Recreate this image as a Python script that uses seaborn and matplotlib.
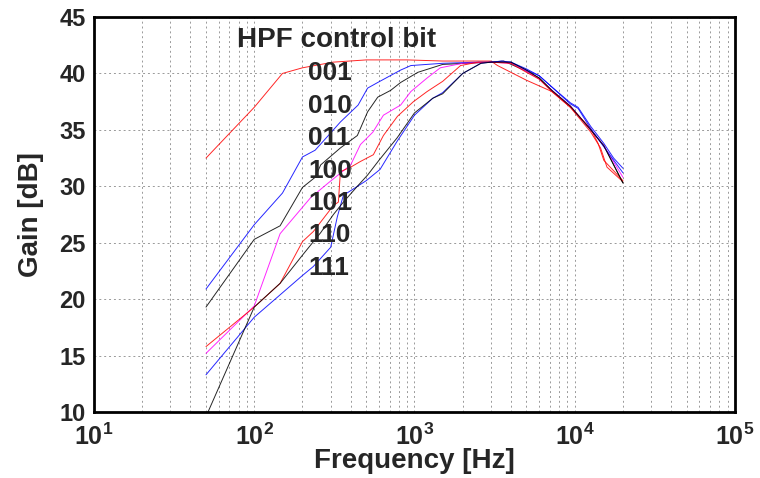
import numpy as np
import pandas as pd
import seaborn as sns
import matplotlib
matplotlib.use("Agg")
import matplotlib.pyplot as plt
from matplotlib.ticker import LogLocator, FixedLocator

# HPF control bit settings
bits = ["001", "010", "011", "100", "101", "110", "111"]
colors = ["#ff0000", "#0000ff", "#000000", "#ff00ff", "#ff0000", "#0000ff", "#000000"]

# frequency [Hz] / gain [dB] per setting
f_001 = [50, 100, 150, 200, 310, 500, 900, 1500, 2000, 3000, 3300, 5000, 7200, 9400, 12600, 14500, 15900, 20000]
g_001 = [32.5, 37.0, 40.0, 40.5, 41.0, 41.2, 41.2, 41.1, 41.1, 41.1, 40.7, 39.4, 38.4, 37.0, 34.8, 33.4, 31.7, 30.4]

f_010 = [50, 100, 150, 200, 240, 290, 345, 445, 510, 590, 820, 950, 1500, 2500, 3000, 4000, 5000, 6000, 7200, 9400, 10500, 12600, 15200, 17500, 20000]
g_010 = [20.9, 26.6, 29.4, 32.6, 33.2, 34.5, 35.7, 37.2, 38.7, 39.2, 40.3, 40.7, 40.9, 41.0, 41.0, 41.0, 40.4, 39.8, 38.8, 37.4, 37.0, 35.3, 33.8, 32.5, 31.6]

f_011 = [50, 100, 145, 200, 240, 260, 345, 440, 510, 590, 710, 820, 1050, 1500, 3000, 3600, 5000, 6000, 7200, 9400, 12600, 15200, 20000]
g_011 = [19.3, 25.3, 26.5, 29.9, 30.8, 31.9, 33.4, 34.5, 36.6, 37.9, 38.5, 39.2, 40.1, 40.8, 41.0, 41.1, 40.2, 39.6, 38.5, 37.1, 35.0, 33.6, 30.3]

f_100 = [50, 100, 145, 225, 290, 400, 460, 550, 640, 820, 950, 1200, 1450, 2000, 3000, 4000, 5000, 6000, 7200, 9400, 12600, 15200, 20000]
g_100 = [15.2, 19.4, 25.8, 29.0, 30.3, 31.9, 33.7, 34.8, 36.3, 37.2, 38.4, 39.6, 40.5, 40.9, 41.0, 40.9, 40.2, 39.5, 38.5, 37.1, 35.0, 33.6, 30.8]

f_101 = [50, 100, 145, 200, 234, 312, 335, 345, 400, 460, 554, 640, 783, 985, 1200, 1500, 1940, 2500, 3000, 4000, 5000, 6000, 7200, 9400, 12600, 14000, 15200, 20000]
g_101 = [15.8, 19.3, 21.4, 25.1, 26.0, 28.3, 28.6, 31.3, 31.7, 32.2, 32.8, 34.5, 36.2, 37.5, 38.4, 39.3, 40.7, 41.0, 41.0, 40.9, 40.1, 39.5, 38.4, 37.0, 35.1, 33.8, 32.3, 30.5]

f_110 = [50, 100, 200, 234, 300, 330, 360, 500, 610, 780, 1000, 1300, 1500, 2000, 2600, 3000, 3500, 4000, 5000, 6000, 7200, 9400, 10500, 12600, 15200, 20000]
g_110 = [13.3, 18.4, 22.1, 22.9, 24.6, 27.3, 29.2, 30.5, 31.5, 34.0, 36.3, 37.8, 38.3, 40.0, 40.9, 41.0, 41.1, 41.0, 40.3, 39.8, 38.8, 37.3, 36.9, 35.1, 33.5, 31.2]

f_111 = [50, 100, 145, 200, 260, 312, 360, 440, 510, 600, 780, 1000, 1300, 1500, 2000, 2600, 3000, 4000, 5000, 6000, 7200, 9400, 12600, 15200, 20000]
g_111 = [9.6, 19.3, 21.4, 23.9, 25.9, 27.5, 28.6, 30.0, 31.0, 32.3, 34.3, 36.5, 37.8, 38.2, 40.0, 40.9, 41.0, 41.0, 40.3, 39.6, 38.5, 37.1, 35.0, 33.6, 30.3]

freqs = [f_001, f_010, f_011, f_100, f_101, f_110, f_111]
gains = [g_001, g_010, g_011, g_100, g_101, g_110, g_111]

frames = []
for b, f, g in zip(bits, freqs, gains):
    frames.append(pd.DataFrame({"bit": b, "freq": f, "gain": g}))
df = pd.concat(frames, ignore_index=True)

sns.set_style("white")
plt.rcParams["font.family"] = ["Liberation Sans", "DejaVu Sans"]
plt.rcParams["font.weight"] = "bold"
plt.rcParams["mathtext.fontset"] = "custom"
plt.rcParams["mathtext.bf"] = "Liberation Sans:bold"
plt.rcParams["mathtext.rm"] = "Liberation Sans:bold"

fig = plt.figure(figsize=(7.6, 4.78), dpi=100)
ax = fig.add_axes([0.1237, 0.138, 0.967 - 0.1237, 0.9644 - 0.138])

sns.lineplot(data=df, x="freq", y="gain", hue="bit", palette=dict(zip(bits, colors)),
             units="bit", estimator=None, sort=False, legend=False,
             linewidth=0.7, alpha=0.85, ax=ax)

ax.set_xscale("log")
ax.set_xlim(10, 1e5)
ax.set_ylim(10, 45)
ax.xaxis.set_major_locator(FixedLocator([1e1, 1e2, 1e3, 1e4, 1e5]))
ax.xaxis.set_minor_locator(LogLocator(base=10, subs=np.arange(2, 10), numticks=20))
ax.set_xticks([1e1, 1e2, 1e3, 1e4, 1e5])
ax.set_xticklabels([r"$\mathbf{10^{%d}}$" % e for e in range(1, 6)], fontsize=18)
ax.set_yticks(range(10, 46, 5))
ax.set_yticklabels([str(v) for v in range(10, 46, 5)], fontsize=17, fontweight="bold",
                   va="center_baseline")
ax.tick_params(which="both", length=0)
ax.tick_params(axis="x", pad=8)
ax.tick_params(axis="y", pad=6)

ax.grid(True, which="major", axis="both", linestyle=(0, (2, 3)), color="#999999", linewidth=0.7)
ax.grid(True, which="minor", axis="x", linestyle=(0, (2, 3)), color="#999999", linewidth=0.7)
for s in ax.spines.values():
    s.set_linewidth(2)
    s.set_color("black")

ax.set_xlabel("Frequency [Hz]", fontsize=20, fontweight="bold", labelpad=-1)
ax.set_ylabel("Gain [dB]", fontsize=20, fontweight="bold", labelpad=11)

ax.text(78, 43.0, "HPF control bit", fontsize=20, fontweight="bold", va="center", ha="left")
for i, b in enumerate(bits):
    ax.text(218, 40.0 - 2.87 * i, b, fontsize=19, fontweight="bold", va="center", ha="left")

fig.savefig("out.png", dpi=100)
